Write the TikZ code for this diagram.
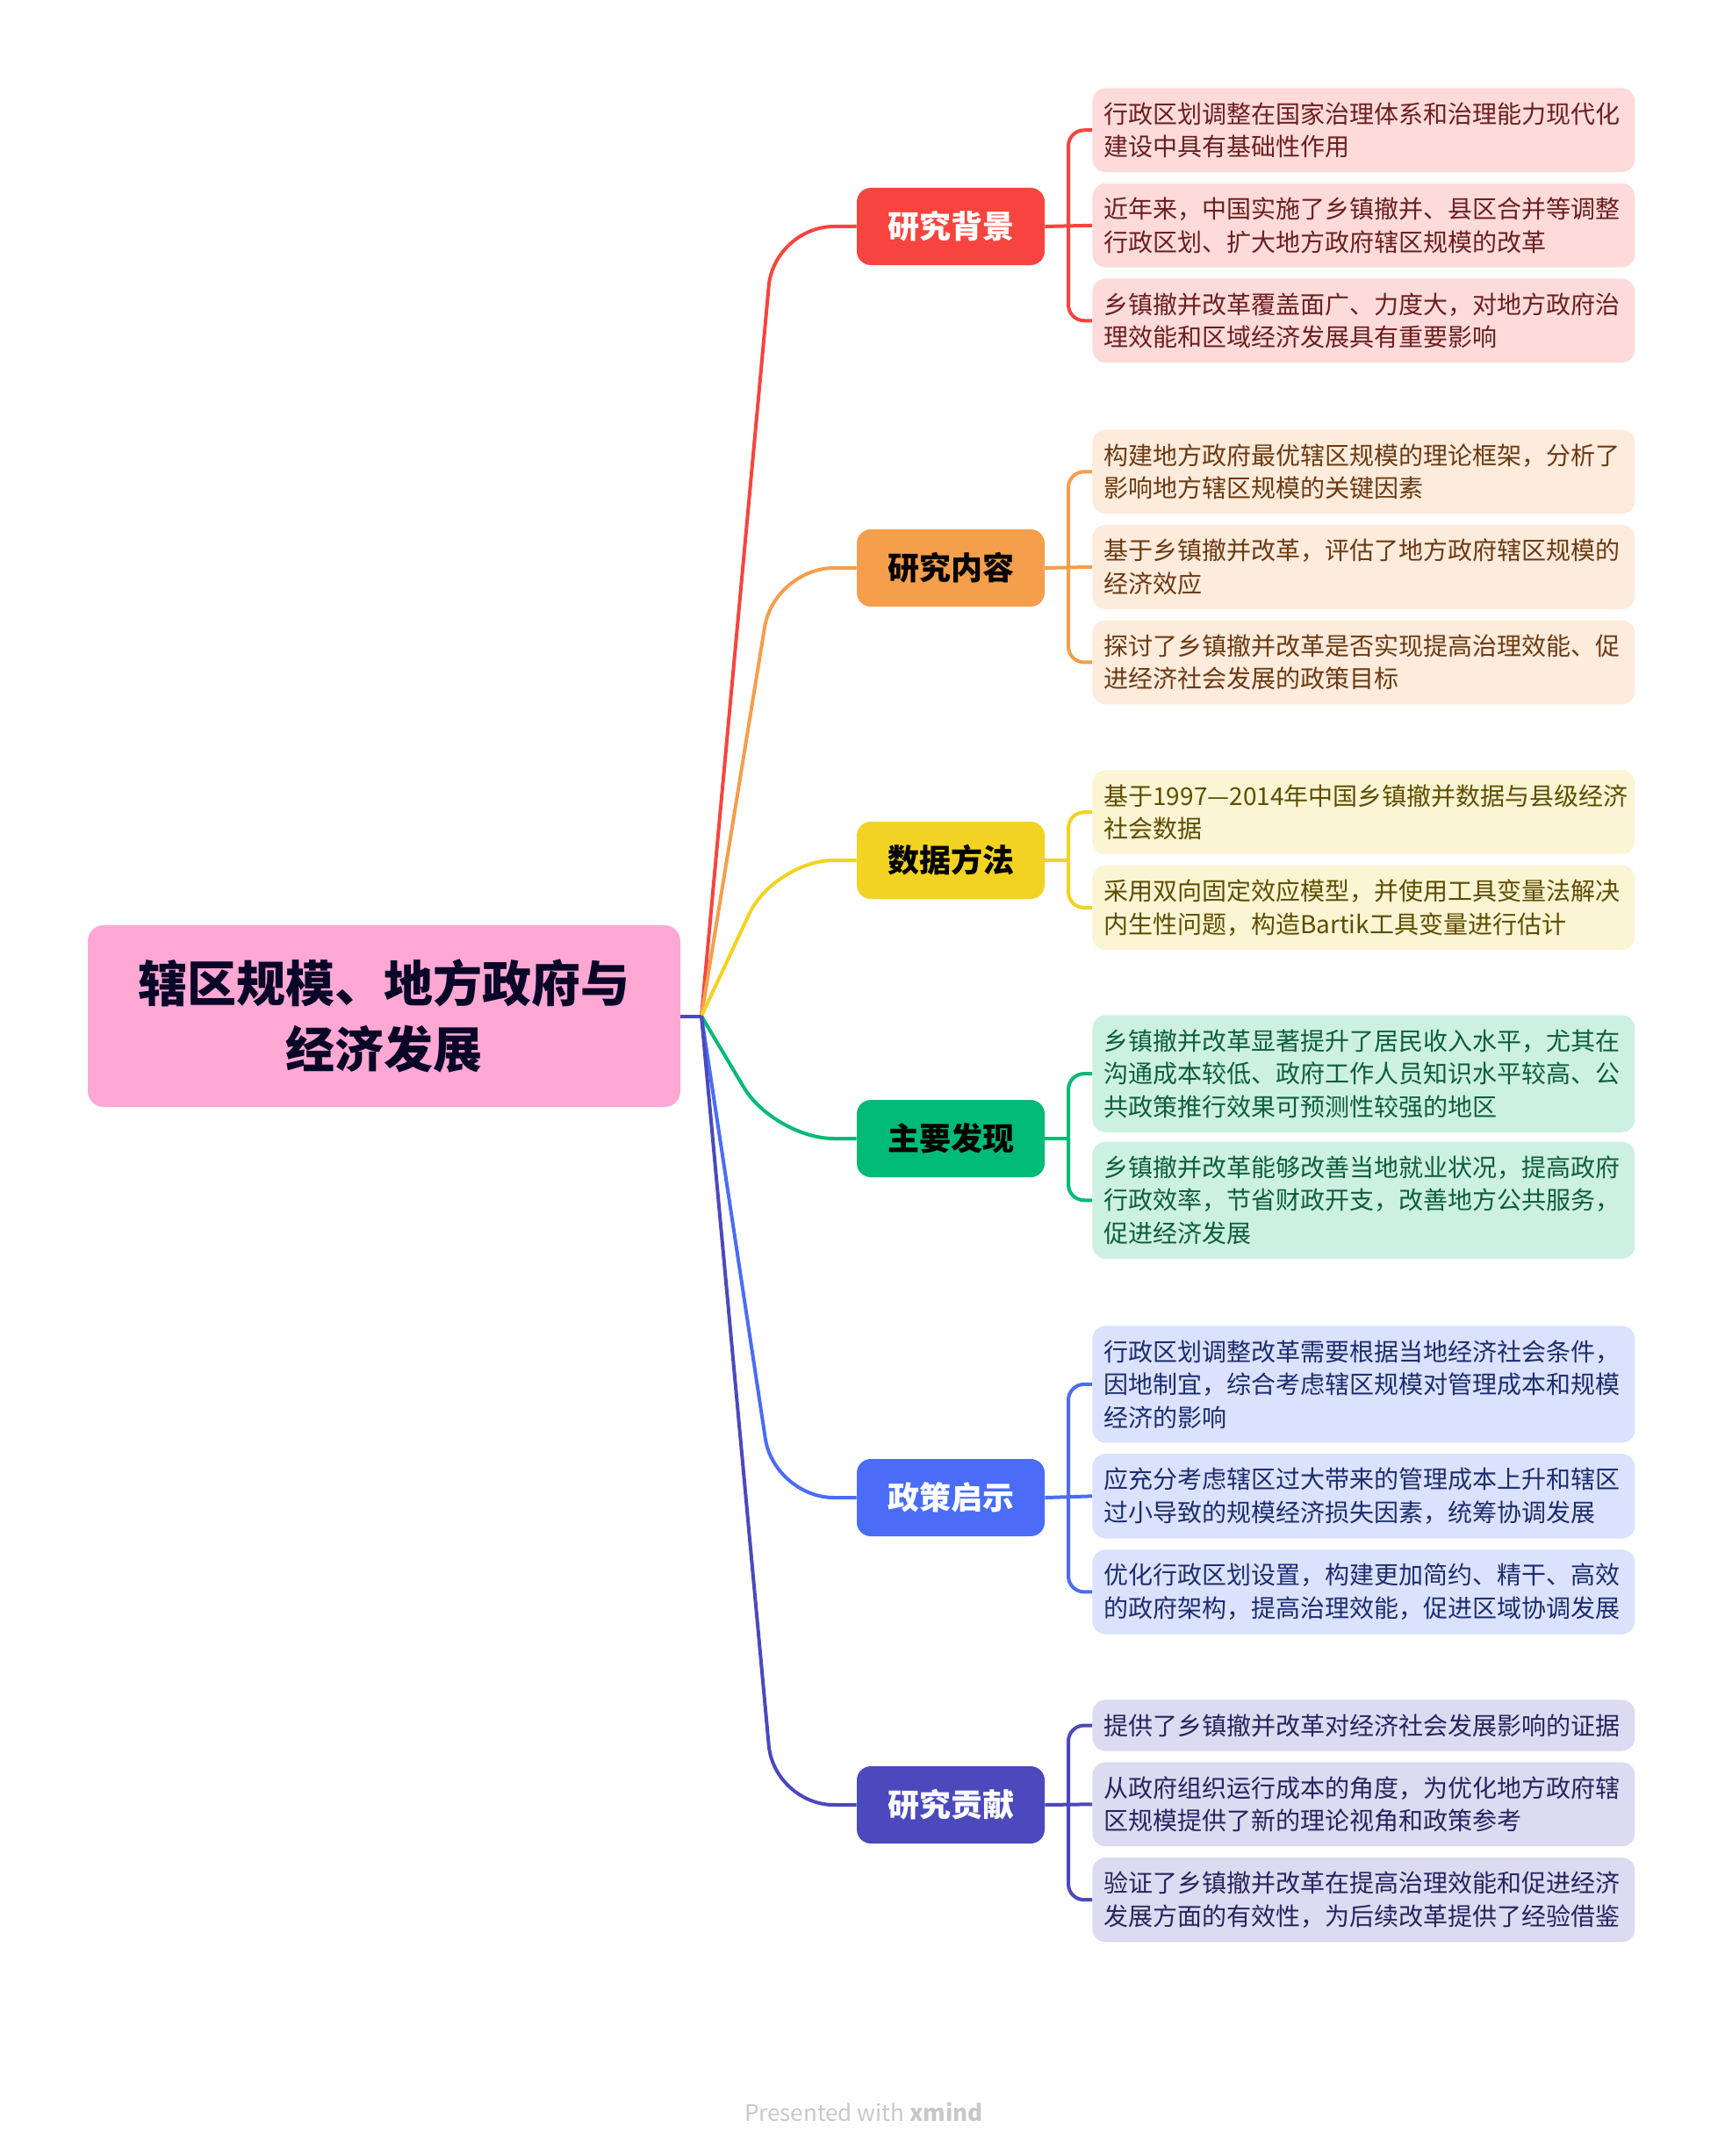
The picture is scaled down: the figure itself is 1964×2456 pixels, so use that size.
\documentclass[tikz,border=0pt]{standalone}
\usepackage{fontspec}
\setmainfont{Noto Sans CJK SC}
\usetikzlibrary{positioning,calc}
\definecolor{rootpink}{HTML}{FFA8D4}
\definecolor{rootnavy}{HTML}{0A0628}
\definecolor{footgray}{HTML}{C8C8C8}
\definecolor{bgmain}{HTML}{F8443E}
\definecolor{bgleaf}{HTML}{FDDBDA}
\definecolor{bgtext}{HTML}{6B1F1F}
\definecolor{nrmain}{HTML}{F59E4C}
\definecolor{nrleaf}{HTML}{FDEBDC}
\definecolor{nrtext}{HTML}{6B3A12}
\definecolor{sjmain}{HTML}{F2D323}
\definecolor{sjleaf}{HTML}{FCF5D4}
\definecolor{sjtext}{HTML}{5E4D00}
\definecolor{fxmain}{HTML}{00BA78}
\definecolor{fxleaf}{HTML}{CCF1E2}
\definecolor{fxtext}{HTML}{0E5E3B}
\definecolor{zcmain}{HTML}{4A6CF7}
\definecolor{zcleaf}{HTML}{DBE2FD}
\definecolor{zctext}{HTML}{1D2D6E}
\definecolor{gxmain}{HTML}{4C49BC}
\definecolor{gxleaf}{HTML}{DCDBF2}
\definecolor{gxtext}{HTML}{27245E}

\begin{document}
\begin{tikzpicture}[x=0.5pt, y=-0.5pt,
  root/.style={fill=rootpink, text=rootnavy, rounded corners=9pt, minimum width=337.5pt, minimum height=103.5pt, align=center, font=\fontsize{28}{37.6}\selectfont\bfseries},
  topic/.style={fill=#1main, rounded corners=8pt, minimum width=107pt, minimum height=44pt, font=\fontsize{18}{22}\selectfont\bfseries},
  leaf/.style={fill=#1leaf, text=#1text, rounded corners=7.5pt, text width=296pt, inner xsep=6.5pt, inner ysep=8pt, align=left, font=\fontsize{14}{18.8}\selectfont},
  conn/.style={line width=2pt, draw=#1main, rounded corners=34pt},
  brk/.style={line width=2pt, draw=#1main, rounded corners=9pt}
]
\useasboundingbox (0,0) rectangle (1964,2456);
\node[root] (root) at (437.5,1157.5) {辖区规模、地方政府与\\经济发展};
\coordinate (hub) at (799,1157.5);

\node[topic=bg, text=white] (bg) at (1083,258) {研究背景};
\node[topic=nr, text=black] (nr) at (1083,647) {研究内容};
\node[topic=sj, text=black] (sj) at (1083,980) {数据方法};
\node[topic=fx, text=black] (fx) at (1083,1297) {主要发现};
\node[topic=zc, text=white] (zc) at (1083,1706) {政策启示};
\node[topic=gx, text=white] (gx) at (1083,2056) {研究贡献};

\node[leaf=bg, anchor=north west] (bg1) at (1244,100) {行政区划调整在国家治理体系和治理能力现代化\\建设中具有基础性作用};
\node[leaf=bg, below=6pt of bg1] (bg2) {近年来，中国实施了乡镇撤并、县区合并等调整\\行政区划、扩大地方政府辖区规模的改革};
\node[leaf=bg, below=6pt of bg2] (bg3) {乡镇撤并改革覆盖面广、力度大，对地方政府治\\理效能和区域经济发展具有重要影响};

\node[leaf=nr, anchor=north west] (nr1) at (1244,489) {构建地方政府最优辖区规模的理论框架，分析了\\影响地方辖区规模的关键因素};
\node[leaf=nr, below=6pt of nr1] (nr2) {基于乡镇撤并改革，评估了地方政府辖区规模的\\经济效应};
\node[leaf=nr, below=6pt of nr2] (nr3) {探讨了乡镇撤并改革是否实现提高治理效能、促\\进经济社会发展的政策目标};

\node[leaf=sj, anchor=north west] (sj1) at (1244,877) {\mbox{基于1997—2014年中国乡镇撤并数据与县级经济}\\社会数据};
\node[leaf=sj, below=6pt of sj1] (sj2) {采用双向固定效应模型，并使用工具变量法解决\\内生性问题，构造Bartik工具变量进行估计};

\node[leaf=fx, anchor=north west] (fx1) at (1244,1156) {乡镇撤并改革显著提升了居民收入水平，尤其在\\沟通成本较低、政府工作人员知识水平较高、公\\共政策推行效果可预测性较强的地区};
\node[leaf=fx, below=5pt of fx1] (fx2) {乡镇撤并改革能够改善当地就业状况，提高政府\\行政效率，节省财政开支，改善地方公共服务，\\促进经济发展};

\node[leaf=zc, anchor=north west] (zc1) at (1244,1510) {行政区划调整改革需要根据当地经济社会条件，\\因地制宜，综合考虑辖区规模对管理成本和规模\\经济的影响};
\node[leaf=zc, below=6pt of zc1] (zc2) {应充分考虑辖区过大带来的管理成本上升和辖区\\过小导致的规模经济损失因素，统筹协调发展};
\node[leaf=zc, below=6pt of zc2] (zc3) {优化行政区划设置，构建更加简约、精干、高效\\的政府架构，提高治理效能，促进区域协调发展};

\node[leaf=gx, anchor=north west] (gx1) at (1244,1936) {提供了乡镇撤并改革对经济社会发展影响的证据};
\node[leaf=gx, below=6pt of gx1] (gx2) {从政府组织运行成本的角度，为优化地方政府辖\\区规模提供了新的理论视角和政策参考};
\node[leaf=gx, below=6pt of gx2] (gx3) {验证了乡镇撤并改革在提高治理效能和促进经济\\发展方面的有效性，为后续改革提供了经验借鉴};

\node[font=\fontsize{13}{15}\selectfont, text=footgray] (foot) at (984,2406) {Presented with \textbf{xmind}};

\draw[conn=bg] (hub) -- ($(hub |- bg.west)+(83,0)$) -- (bg.west);
\draw[conn=nr] (hub) -- ($(hub |- nr.west)+(83,0)$) -- (nr.west);
\draw[conn=sj] (hub) -- ($(hub |- sj.west)+(83,0)$) -- (sj.west);
\draw[conn=fx] (hub) -- ($(hub |- fx.west)+(83,0)$) -- (fx.west);
\draw[conn=zc] (hub) -- ($(hub |- zc.west)+(83,0)$) -- (zc.west);
\draw[conn=gx] (hub) -- ($(hub |- gx.west)+(83,0)$) -- (gx.west);
\draw[conn=gx] (root.east) -- (hub);

\draw[brk=bg] (bg1.west) -- ++(-13.5pt,0) |- (bg3.west);
\draw[brk=bg] (bg.east) -- (bg2.west);
\draw[brk=nr] (nr1.west) -- ++(-13.5pt,0) |- (nr3.west);
\draw[brk=nr] (nr.east) -- (nr2.west);
\draw[brk=sj] (sj1.west) -- ++(-13.5pt,0) |- (sj2.west);
\draw[brk=sj] (sj.east) -- ($(sj1.west |- sj.east)+(-27,0)$);
\draw[brk=fx] (fx1.west) -- ++(-13.5pt,0) |- (fx2.west);
\draw[brk=fx] (fx.east) -- ($(fx1.west |- fx.east)+(-27,0)$);
\draw[brk=zc] (zc1.west) -- ++(-13.5pt,0) |- (zc3.west);
\draw[brk=zc] (zc.east) -- (zc2.west);
\draw[brk=gx] (gx1.west) -- ++(-13.5pt,0) |- (gx3.west);
\draw[brk=gx] (gx.east) -- (gx2.west);
\end{tikzpicture}
\end{document}
